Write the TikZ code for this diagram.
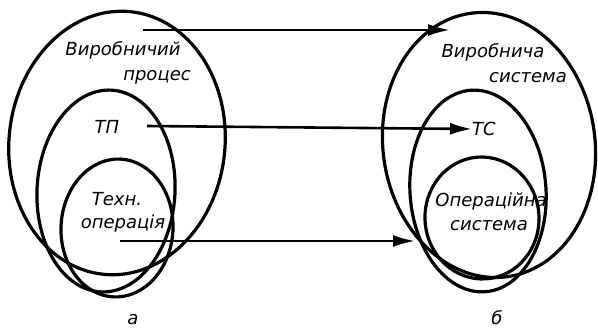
\documentclass[tikz,border=0pt]{standalone}
\usepackage{fontspec}
\setmainfont{DejaVu Sans}
\usetikzlibrary{arrows.meta,shapes.geometric}
\tikzset{
  ring/.style={draw, line width=3.2pt, ellipse, inner sep=0pt},
  lbl/.style={font=\fontsize{18}{18}\selectfont\itshape, inner sep=0pt},
  link/.style={line width=2.6pt, -{Latex[length=22pt,width=12pt]}},
}
\begin{document}
\begin{tikzpicture}[x=1pt,y=-1pt]
\useasboundingbox (0,0) rectangle (598,331);
% left group
\node[ring, minimum width=216pt, minimum height=264pt, rotate=-6] (lo) at (117,143) {};
\node[ring, minimum width=138pt, minimum height=202pt, rotate=-3] (lm) at (106,191) {};
\node[ring, minimum width=112pt, minimum height=138pt, rotate=-3] (li) at (117,228) {};
% right group
\node[ring, minimum width=212pt, minimum height=266pt, rotate=8] (ro) at (489,145) {};
\node[ring, minimum width=136pt, minimum height=202pt, rotate=4] (rm) at (478,191) {};
\node[ring, minimum width=114pt, minimum height=122pt, rotate=4] (ri) at (482,218) {};
% labels
\node[lbl] (t1) at (123,50) {Виробничий};
\node[lbl] (t2) at (157,77) {процес};
\node[lbl] (t3) at (107,127) {ТП};
\node[lbl] (t4) at (117,199) {Техн.};
\node[lbl] (t5) at (123,224) {операція};
\node[lbl] (s1) at (493,52) {Виробнича};
\node[lbl] (s2) at (528,78) {система};
\node[lbl] (s3) at (484,129) {ТС};
\node[lbl] (s4) at (491,202) {Операційна};
\node[lbl] (s5) at (489,226) {система};
\node[lbl] (la) at (133,320) {а};
\node[lbl] (lb) at (497,318) {б};
% connectors
\coordinate (a1) at (143,30);
\coordinate (b1) at (450,30);
\coordinate (a2) at (147,126);
\coordinate (a3) at (120,241);
\coordinate (b3) at (415,241);
\draw[link] (a1) -- (b1);
\draw[link] (a2) -- (s3.west);
\draw[link] (a3) -- (b3);
\end{tikzpicture}
\end{document}
